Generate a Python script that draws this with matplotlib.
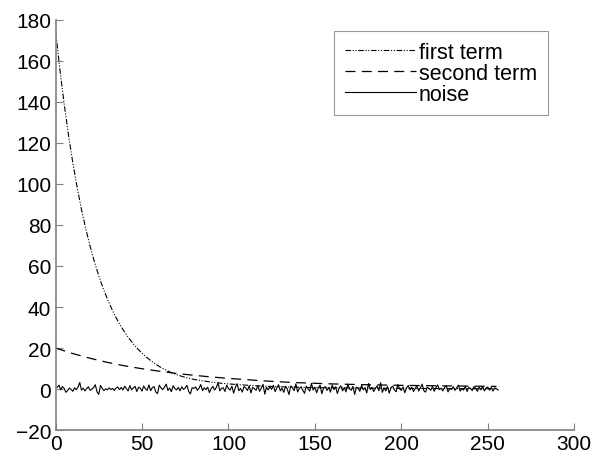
import numpy as np
import matplotlib
matplotlib.use("Agg")
import matplotlib.pyplot as plt

plt.rcParams['font.family'] = ['Liberation Sans', 'DejaVu Sans']

# curve samples
x_first = [0, 2.5, 5, 7.5, 10, 12.5, 15, 17.5, 20, 22.5, 25, 27.5, 30, 32.5, 35, 37.5, 40, 42.5, 45,
           47.5, 50, 52.5, 55, 57.5, 60, 62.5, 65, 67.5, 70, 75, 80, 85, 90, 95, 100, 110, 120, 130,
           140, 150, 170, 200, 230, 255]
first_term = [175, 155.9, 139.0, 123.8, 110.3, 98.3, 87.6, 78.1, 69.6, 62.0, 55.2, 49.2, 43.9, 39.1,
              34.8, 31.0, 27.7, 24.7, 22.0, 19.6, 17.5, 15.6, 13.9, 12.4, 11.0, 9.8, 8.8, 7.8, 7.0,
              5.7, 4.7, 4.0, 3.4, 2.9, 2.5, 1.9, 1.4, 1.1, 0.9, 0.7, 0.5, 0.3, 0.2, 0.15]
x_second = [0, 10, 20, 30, 40, 50, 60, 70, 80, 90, 100, 110, 120, 130, 140, 150, 160, 180, 200, 220, 240, 255]
second_term = [20, 17.3, 15.0, 13.0, 11.3, 9.9, 8.7, 7.6, 6.7, 5.9, 5.2, 4.6, 4.0, 3.5, 3.1, 2.8,
               2.5, 2.1, 1.8, 1.6, 1.4, 1.3]

noise = [
    0.8, 1.9, -0.4, 1.2, 0.3, -1.6, -0.7, 0.5, -0.2, -1.1, 0.6, -0.3, 0.9, 3.2, -0.5, 0.4,
    -0.9, 0.2, 1.1, -0.6, -0.1, 0.7, 2.1, -1.4, -2.6, 1.8, 0.3, -0.8, 0.1, -0.4, 0.6, -0.2,
    0.3, -0.7, 0.5, 1.0, -0.3, 0.8, -0.5, 1.4, 0.2, -0.9, 1.7, -0.4, 0.6, 1.3, -1.2, 0.9,
    0.4, -1.0, 1.5, 0.1, -0.6, 2.0, -0.8, 0.7, 1.2, -1.5, -2.2, 1.9, 0.6, -0.3, 0.9, 2.4,
    -0.7, 0.5, -1.3, 1.6, 0.2, -0.4, 0.8, -0.9, 1.1, -0.2, 0.5, 1.8, -1.1, -2.4, 0.7, 0.3,
    1.0, -0.6, 0.4, 2.2, -0.8, 0.6, -0.3, 0.9, -1.7, 0.2, 1.3, -0.5, 0.8, 3.0, -0.9, 0.4,
    0.6, -1.2, 1.9, 0.2, -0.5, 1.4, -2.0, 0.7, 2.6, -0.8, 0.3, -1.5, 1.2, 0.5, -0.7, 1.6,
    -1.9, 0.8, 0.2, -0.6, 1.7, -1.1, 0.5, 2.3, -2.5, 0.9, -0.4, 1.1, -0.2, 1.8, -1.3, 0.6,
    2.1, -0.9, 0.4, -1.6, 1.3, 0.1, -2.7, 1.5, 0.7, -0.8, 2.5, -1.4, 0.3, 1.0, -0.6, -2.1,
    1.4, 0.2, -1.0, 2.8, -0.5, 0.9, -1.8, 0.6, 1.9, -2.3, 0.4, 1.2, -0.7, 0.8, -1.5, 2.0,
    -0.3, 1.1, -2.2, 0.5, 1.6, -0.9, 0.7, -1.4, 2.3, 0.1, -0.6, 1.3, -2.6, 0.9, 0.4, -1.1,
    1.8, -0.4, 0.6, -1.9, 2.7, -0.2, 0.8, -1.2, 0.3, 1.5, -0.8, 3.1, -1.6, 0.5, -0.9, 1.2,
    -2.0, 0.7, 1.4, -0.5, -1.3, 2.2, 0.1, -0.7, 1.0, -1.8, 0.6, 1.7, -0.4, 0.9, -1.2, 0.3,
    1.6, -1.0, 0.5, 2.4, -0.8, -1.5, 0.9, 0.2, -0.6, 1.3, -1.1, 0.7, 2.0, -0.3, 0.4, -0.9,
    0.8, 1.5, -1.4, 0.3, -0.2, 1.1, -0.7, 0.6, 1.9, -1.0, 0.2, -0.5, 1.4, -1.2, 0.7, 0.4,
    -0.8, 1.2, 0.3, -1.1, 0.9, -0.4, 1.3, -0.9, 0.5, 1.0, -0.6, 0.8, -1.0, 0.6, 0.2, -0.5,
]
x_noise = np.arange(1, len(noise) + 1)

xticks = [0, 50, 100, 150, 200, 250, 300]
yticks = [-20, 0, 20, 40, 60, 80, 100, 120, 140, 160, 180]

fig = plt.figure(figsize=(5.99, 4.64), dpi=100)
ax = fig.add_axes([0.0927, 0.071, 0.866, 0.884])

ax.plot(x_first, first_term, color='black', lw=0.8, linestyle=(0, (5, 1.5, 1, 1.5, 1, 1.5)), label='first term')
ax.plot(x_second, second_term, color='black', lw=0.9, linestyle=(0, (8, 5)), label='second term')
ax.plot(x_noise, noise, color='black', lw=0.8, label='noise')

ax.set_xlim(0, 300)
ax.set_ylim(-20, 180)
ax.set_xticks(xticks)
ax.set_yticks(yticks)

for s in ['top', 'right']:
    ax.spines[s].set_visible(False)
for s in ['left', 'bottom']:
    ax.spines[s].set_color('#808080')
    ax.spines[s].set_linewidth(1.2)
ax.tick_params(direction='in', length=5, color='#808080', labelsize=15, pad=3)

leg = ax.legend(loc='upper right', bbox_to_anchor=(0.949, 0.973), fontsize=15.5, fancybox=False,
                edgecolor='#808080', handlelength=3.3, handletextpad=0.15, labelspacing=0.0,
                borderpad=0.5, borderaxespad=0)
leg.get_frame().set_linewidth(0.8)

fig.savefig('out.png', dpi=100)
